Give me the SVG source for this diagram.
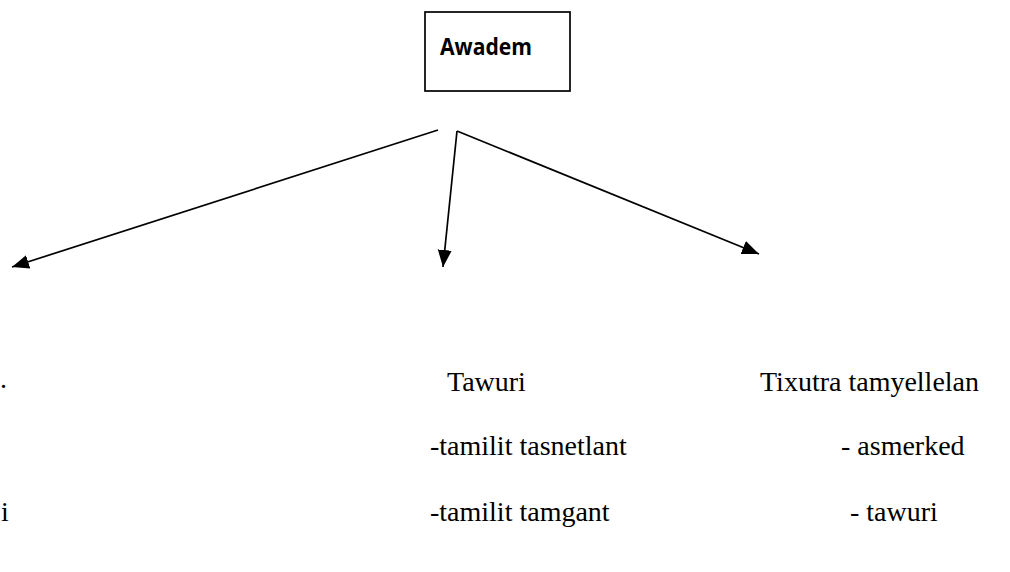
<svg xmlns="http://www.w3.org/2000/svg" width="1010" height="572" viewBox="0 0 1010 572">
  <defs>
    <style>
      .box { fill: #fff; stroke: #000; stroke-width: 1.7; }
      .title { font-family: "Open Sans", "Liberation Sans", sans-serif; font-weight: bold; font-size: 23px; fill: #000; }
      .edge { fill: none; stroke: #000; stroke-width: 1.7; }
      .lbl { font-family: "Liberation Serif", "Times New Roman", serif; font-size: 28px; fill: #000; }
    </style>
    <marker id="head" markerUnits="userSpaceOnUse" markerWidth="18" markerHeight="15" refX="17" refY="7" orient="auto">
      <path d="M0,0 L17,7 L0,14 z" fill="#000"/>
    </marker>
  </defs>
  <rect width="1010" height="572" fill="#fff"/>

  <!-- root node -->
  <g id="root-awadem">
    <rect class="box" x="425" y="12" width="145" height="79"/>
    <text class="title" x="440" y="55" textLength="92" lengthAdjust="spacingAndGlyphs">Awadem</text>
  </g>

  <!-- arrows fanning out from under the root -->
  <g id="connectors">
    <line class="edge" x1="438" y1="130" x2="12" y2="267" marker-end="url(#head)"/>
    <line class="edge" x1="457" y1="131" x2="443" y2="267" marker-end="url(#head)"/>
    <line class="edge" x1="457" y1="131" x2="759" y2="254" marker-end="url(#head)"/>
  </g>

  <g id="branch-left">
    <text class="lbl" x="0" y="388">.</text>
    <text class="lbl" x="1" y="521">i</text>
  </g>

  <g id="branch-tawuri">
    <text class="lbl" x="447" y="391">Tawuri</text>
    <text class="lbl" x="430" y="455">-tamilit tasnetlant</text>
    <text class="lbl" x="430" y="521">-tamilit tamgant</text>
  </g>

  <g id="branch-tixutra">
    <text class="lbl" x="760" y="391">Tixutra tamyellelan</text>
    <text class="lbl" x="841" y="455">- asmerked</text>
    <text class="lbl" x="850" y="521">- tawuri</text>
  </g>
</svg>
